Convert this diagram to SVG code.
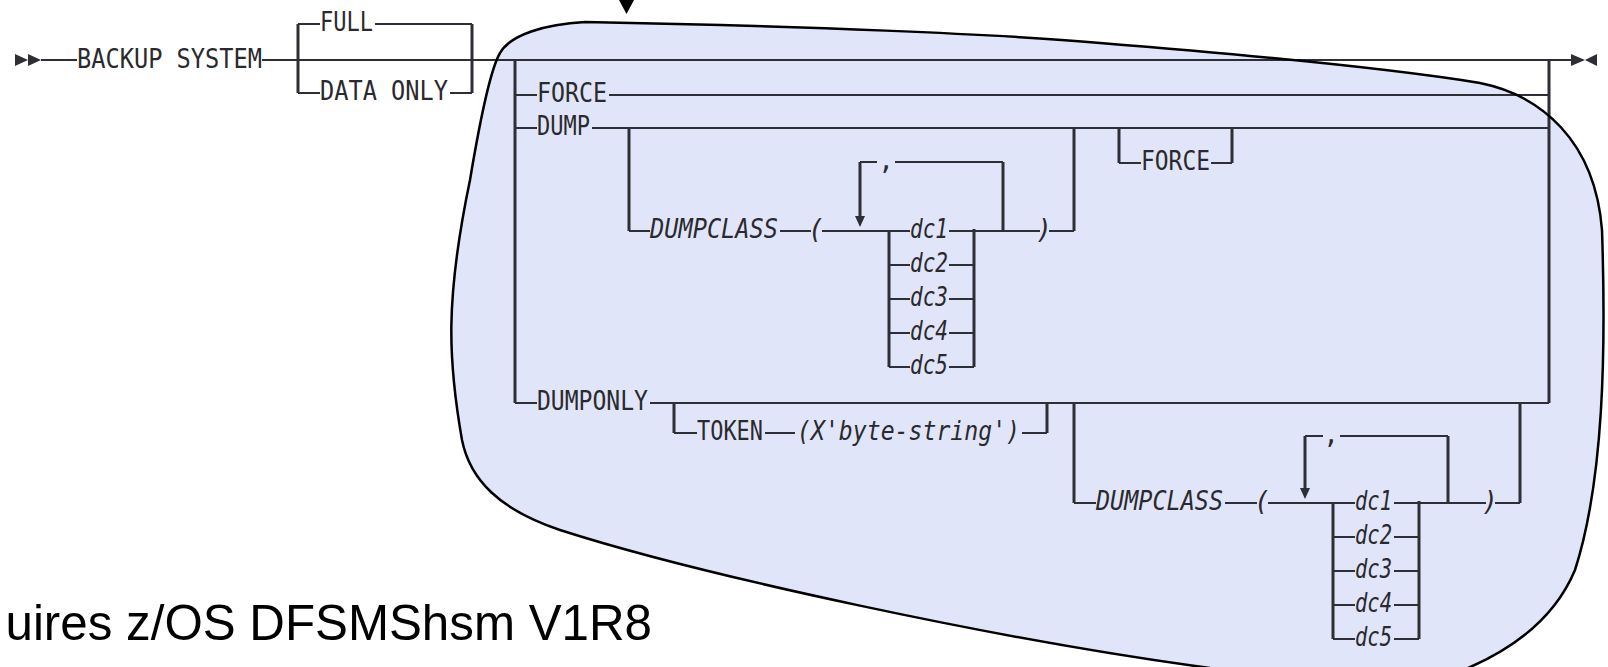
<svg xmlns="http://www.w3.org/2000/svg" width="1608" height="667" viewBox="0 0 1608 667">
<style>
.ln{stroke:#2e2e36;stroke-width:2;fill:none}
.vl{stroke:#2e2e36;stroke-width:3;fill:none}
.mk{fill:#2e2e36}
.t{font-family:"DejaVu Sans Mono","Liberation Mono",monospace;font-size:26px;fill:#2a2a2e}
.i{font-style:italic}
.c{text-anchor:middle}
.cap{font-family:"Liberation Sans",Arial,sans-serif;font-size:49.3px;fill:#000;text-anchor:end}
.blobfill{fill:#e1e5f9;stroke:none}
.blobline{fill:none;stroke:#000;stroke-width:2.5}
</style>
<defs>
<path id="blobshape" d="M500 53 C510 35 545 24 585 22 C800 26 1000 34 1100 43 C1250 55 1400 70 1480 83 C1540 95 1595 140 1602 230 C1606 350 1604 480 1575 570 C1550 630 1490 665 1420 685 L1210 668 C1000 640 700 575 560 530 C500 510 470 480 462 440 C448 360 445 300 470 180 C480 120 490 70 500 53 Z"/>
</defs>
<g id="highlight-area-fill"><use href="#blobshape" class="blobfill"/></g>
<g id="connectors">
<path class="ln" d="M41 60 H77 M262 60 H1571"/>
<path class="ln" d="M298 24 H320 M375 24 H472 M298 93 H320 M450 93 H472"/>
<path class="vl" d="M298 24 V93 M472 24 V93"/>
<path class="ln" d="M515 95 H537 M609 95 H1549 M515 128 H537 M592 128 H1549 M515 403 H537 M650 403 H1549"/>
<path class="vl" d="M515 60 V403 M1549 60 V403"/>
<path class="ln" d="M629 231 H650 M780 231 H811 M822 231 H910 M949 231 H1040 M1049 231 H1074"/>
<path class="vl" d="M629 128 V231 M1074 128 V231"/>
<path class="ln" d="M860 162 H877 M895 162 H1003"/>
<path class="vl" d="M860 162 V217 M1003 162 V231"/>
<path class="mk" d="M855 216 L865 216 L860 227 Z"/>
<path class="ln" d="M889 265 H910 M949 265 H974 M889 299 H910 M949 299 H974 M889 333 H910 M949 333 H974 M889 367 H910 M949 367 H974"/>
<path class="vl" d="M889 231 V367 M974 229 V367"/>
<path class="ln" d="M1119 163 H1141 M1211 163 H1232"/>
<path class="vl" d="M1119 128 V163 M1232 128 V163"/>
<path class="ln" d="M674 433 H697 M765 433 H795 M1022 433 H1047"/>
<path class="vl" d="M674 403 V433 M1047 403 V433"/>
<path class="ln" d="M1074 503 H1096 M1225 503 H1257 M1268 503 H1355 M1394 503 H1486 M1495 503 H1520"/>
<path class="vl" d="M1074 403 V503 M1520 403 V503"/>
<path class="ln" d="M1305 436 H1323 M1340 436 H1448"/>
<path class="vl" d="M1305 436 V489 M1448 436 V503"/>
<path class="mk" d="M1300 488 L1310 488 L1305 499 Z"/>
<path class="ln" d="M1333 537 H1355 M1394 537 H1419 M1333 571 H1355 M1394 571 H1419 M1333 605 H1355 M1394 605 H1419 M1333 639 H1355 M1394 639 H1419"/>
<path class="vl" d="M1333 503 V639 M1419 501 V639"/>
</g>
<g id="start-marker"><path class="mk" d="M15 54 L28 60 L15 66 Z M28 54 L41 60 L28 66 Z"/></g>
<g id="backup-system"><text class="t" x="77" y="68" textLength="185" lengthAdjust="spacingAndGlyphs">BACKUP SYSTEM</text></g>
<g id="full"><text class="t" x="320" y="31" textLength="53" lengthAdjust="spacingAndGlyphs">FULL</text></g>
<g id="data-only"><text class="t" x="320" y="100" textLength="128" lengthAdjust="spacingAndGlyphs">DATA ONLY</text></g>
<g id="force"><text class="t" x="537" y="102" textLength="70" lengthAdjust="spacingAndGlyphs">FORCE</text></g>
<g id="dump"><text class="t" x="537" y="135" textLength="53" lengthAdjust="spacingAndGlyphs">DUMP</text></g>
<g id="dumpclass-1">
<text class="t i" x="650" y="238" textLength="128" lengthAdjust="spacingAndGlyphs">DUMPCLASS</text>
<text class="t i c" x="816" y="238">(</text>
<text class="t c" x="886" y="169">,</text>
<text class="t i c" x="1044" y="238">)</text>
</g>
<g id="dc-list-1">
<text class="t i" x="910" y="238" textLength="38" lengthAdjust="spacingAndGlyphs">dc1</text>
<text class="t i" x="910" y="272" textLength="38" lengthAdjust="spacingAndGlyphs">dc2</text>
<text class="t i" x="910" y="306" textLength="38" lengthAdjust="spacingAndGlyphs">dc3</text>
<text class="t i" x="910" y="340" textLength="38" lengthAdjust="spacingAndGlyphs">dc4</text>
<text class="t i" x="910" y="374" textLength="38" lengthAdjust="spacingAndGlyphs">dc5</text>
</g>
<g id="force-optional"><text class="t" x="1141" y="170" textLength="69" lengthAdjust="spacingAndGlyphs">FORCE</text></g>
<g id="dumponly"><text class="t" x="537" y="410" textLength="111" lengthAdjust="spacingAndGlyphs">DUMPONLY</text></g>
<g id="token">
<text class="t" x="697" y="440" textLength="66" lengthAdjust="spacingAndGlyphs">TOKEN</text>
<text class="t i" x="797" y="440" textLength="223" lengthAdjust="spacingAndGlyphs">(X'byte-string')</text>
</g>
<g id="dumpclass-2">
<text class="t i" x="1096" y="510" textLength="127" lengthAdjust="spacingAndGlyphs">DUMPCLASS</text>
<text class="t i c" x="1262" y="510">(</text>
<text class="t c" x="1331" y="443">,</text>
<text class="t i c" x="1490" y="510">)</text>
</g>
<g id="dc-list-2">
<text class="t i" x="1355" y="510" textLength="37" lengthAdjust="spacingAndGlyphs">dc1</text>
<text class="t i" x="1355" y="544" textLength="37" lengthAdjust="spacingAndGlyphs">dc2</text>
<text class="t i" x="1355" y="578" textLength="37" lengthAdjust="spacingAndGlyphs">dc3</text>
<text class="t i" x="1355" y="612" textLength="37" lengthAdjust="spacingAndGlyphs">dc4</text>
<text class="t i" x="1355" y="646" textLength="37" lengthAdjust="spacingAndGlyphs">dc5</text>
</g>
<g id="end-marker"><path class="mk" d="M1571 54 L1585 60 L1571 66 Z M1597 54 L1585 60 L1597 66 Z"/></g>
<g id="highlight-area-outline"><use href="#blobshape" class="blobline"/></g>
<g id="pointer"><path fill="#000" d="M619 0 L634 0 L626.5 14 Z"/></g>
<g id="caption"><text class="cap" x="652" y="640">uires z/OS DFSMShsm V1R8</text></g>
</svg>
